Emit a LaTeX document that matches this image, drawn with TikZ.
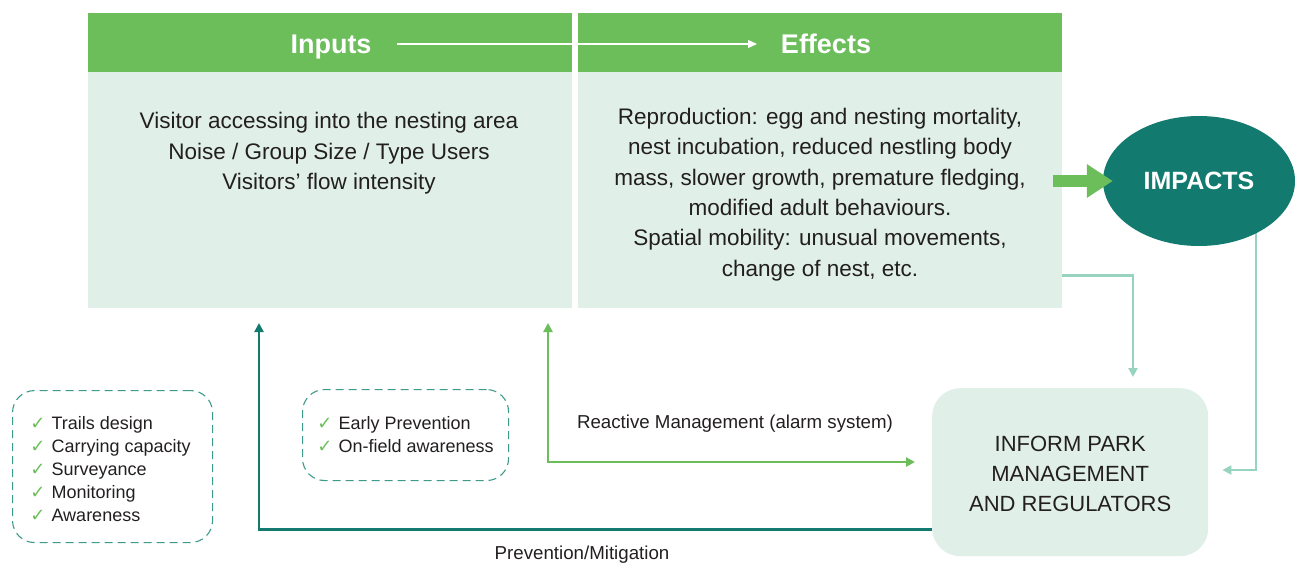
\documentclass[tikz,border=0pt]{standalone}
\usepackage{fontspec}
\setmainfont{Liberation Sans}
\newfontfamily\symf{DejaVu Sans}
\usetikzlibrary{arrows.meta,shapes.geometric,backgrounds}
\definecolor{hdrgreen}{HTML}{6BBE5A}
\definecolor{lightfill}{HTML}{E0F0E8}
\definecolor{tealdark}{HTML}{127A6E}
\definecolor{teallight}{HTML}{98D3BF}
\definecolor{dashteal}{HTML}{3E9A8A}
\definecolor{txt}{HTML}{231F20}
\newcommand{\ck}{{\symf\color{hdrgreen}\fontsize{18}{18}\selectfont ✓}\hspace{6pt}}
\tikzset{
  hdr/.style={fill=hdrgreen, draw=none, anchor=north west, inner sep=0pt, minimum width=484pt, minimum height=59pt},
  bodybox/.style={fill=lightfill, draw=none, anchor=north west, inner sep=0pt, minimum width=484pt, minimum height=236pt},
  hdrtext/.style={text=white, font=\bfseries\fontsize{27}{30}\selectfont, text height=19.5pt, text depth=5.5pt},
  bodytext/.style={text=txt, align=center, font=\fontsize{22.5}{30.4}\selectfont},
  dashbox/.style={draw=dashteal, line width=1.1pt, dash pattern=on 8pt off 5pt, rounded corners=22pt, inner sep=0pt, anchor=north west},
  checktext/.style={align=left, text=txt, font=\fontsize{18}{23}\selectfont, inner sep=0pt},
  lbl/.style={text=txt, font=\fontsize{18.7}{20}\selectfont},
  tipS/.style={-{Triangle[length=9pt,width=9pt]}},
}
\begin{document}
\begin{tikzpicture}[x=1pt,y=-1pt]
\useasboundingbox (0,0) rectangle (1295,562);
% boxes
\node[hdr] (inhdr) at (88,13) {};
\node[bodybox] (inbody) at (88,72) {};
\node[hdr] (effhdr) at (578,13) {};
\node[bodybox] (effbody) at (578,72) {};
\node[hdrtext] (intitle) at (331,46.5) {Inputs};
\node[hdrtext] (efftitle) at (826,46.5) {Effects};
\coordinate (wa1) at (397,44);
\coordinate (wa2) at (757,44);
\draw[white, line width=1.4pt, -{Triangle[length=9pt,width=8pt]}] (wa1) -- (wa2);
\node[bodytext] (intext) at (329,153.5) {Visitor accessing into the nesting area\\Noise / Group Size / Type Users\\Visitors’ flow intensity};
\node[bodytext] (efftext) at (820,194.5) {Reproduction: egg and nesting mortality,\\nest incubation, reduced nestling body\\mass, slower growth, premature fledging,\\modified adult behaviours.\\Spatial mobility: unusual movements,\\change of nest, etc.};
% impacts
\node[ellipse, fill=tealdark, minimum width=192pt, minimum height=130pt, inner sep=0pt, text=white, font=\bfseries\fontsize{25}{26}\selectfont] (impacts) at (1199,181) {\raisebox{-2pt}{IMPACTS}};
\coordinate (ga1) at (1053,181);
\draw[hdrgreen, line width=12pt, -{Triangle[length=26pt 0,width=32pt 0]}] (ga1) -- ([xshift=10pt]impacts.west);
% inform
\node[fill=lightfill, rounded corners=28pt, minimum width=276pt, minimum height=168pt, anchor=north west, inner sep=0pt] (inform) at (932,388) {};
\node[align=center, text=txt, font=\fontsize{22}{30}\selectfont] (informtext) at ([yshift=-2pt]inform.center) {INFORM PARK\\MANAGEMENT\\AND REGULATORS};
% connectors
\begin{scope}[on background layer]
\coordinate (c1) at (1133,377);
\draw[teallight, line width=2.2pt, tipS] ([yshift=33pt]effbody.south east) -| (c1);
\coordinate (r1) at (1256,470);
\draw[teallight, line width=2.2pt, tipS] (impacts.center -| r1) -- (r1) -- ([xshift=14pt]inform.east |- r1);
\end{scope}
\coordinate (p1) at (259,323);
\draw[tealdark, line width=2.4pt, {Triangle[length=9pt,width=9pt]}-] (p1) |- ([yshift=27pt]inform.south west);
\coordinate (q1) at (548,323);
\coordinate (q2) at (548,462);
\draw[hdrgreen, line width=2.2pt, {Triangle[length=9pt,width=9pt]}-{Triangle[length=9pt,width=9pt]}] (q1) -- (q2) -- ([xshift=-17pt]inform.west |- q2);
\node[lbl] (react) at (735,424) {Reactive Management (alarm system)};
\node[lbl] (prev) at (582,555) {Prevention/Mitigation};
% checklists
\node[dashbox, minimum width=200pt, minimum height=152pt] (db1) at (12,390) {};
\node[checktext] (db1text) at ([xshift=-2pt,yshift=-2.5pt]db1.center) {\ck Trails design\\\ck Carrying capacity\\\ck Surveyance\\\ck Monitoring\\\ck Awareness};
\node[dashbox, minimum width=206pt, minimum height=91pt] (db2) at (302,389) {};
\node[checktext] (db2text) at (db2.center) {\ck Early Prevention\\\ck On-field awareness};
\end{tikzpicture}
\end{document}
